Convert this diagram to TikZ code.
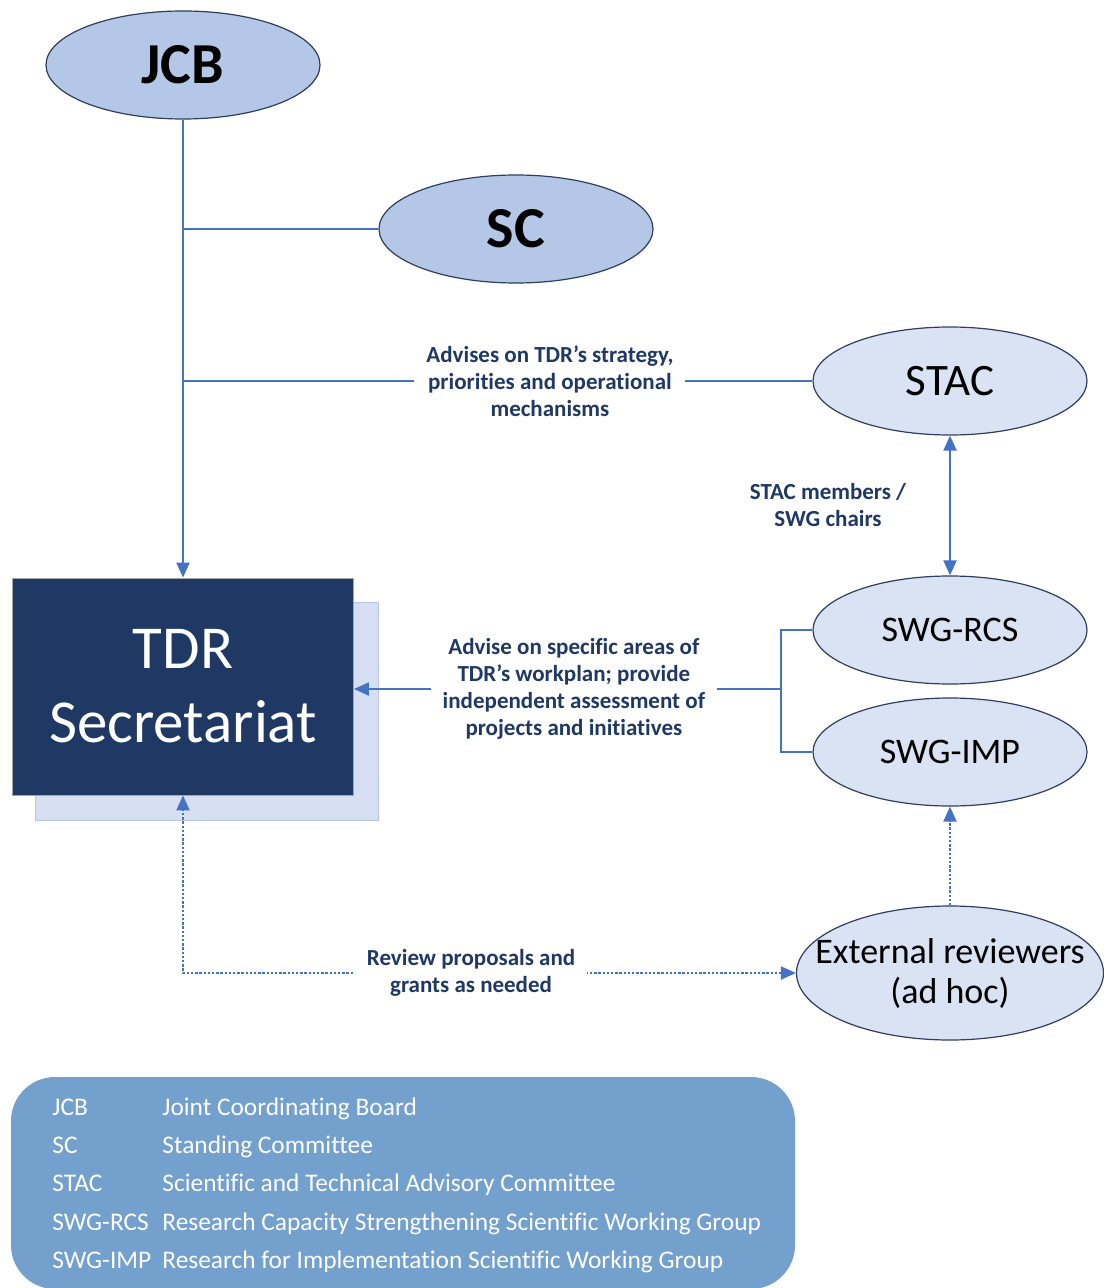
\documentclass[tikz,border=0pt]{standalone}
\usepackage{fontspec}
\setmainfont{Carlito}[Ligatures=NoCommon]
\usetikzlibrary{shapes.geometric, arrows.meta, positioning}

\definecolor{linkblue}{HTML}{4472C4}
\definecolor{navy}{HTML}{1F3864}
\definecolor{ovalline}{RGB}{47,62,94}
\definecolor{ovaldark}{HTML}{B4C7E7}
\definecolor{ovallight}{HTML}{DAE3F3}
\definecolor{shadowfill}{HTML}{D6DFF2}
\definecolor{shadowline}{HTML}{B4C7E7}
\definecolor{legendfill}{RGB}{116,160,206}

\begin{document}
\begin{tikzpicture}[
        x=0.5pt, y=-0.5pt, % one unit = one pixel of the chart
        >={Triangle[length=7.5pt, width=6.5pt]},
        link/.style = {draw=linkblue, line width=1pt},
        dotlink/.style = {link, dash pattern=on 1.2pt off 0.9pt},
        oval/.style = {ellipse, draw=ovalline, line width=0.6pt, inner sep=0pt, minimum width=137pt, minimum height=54pt},
        topoval/.style = {oval, fill=ovaldark, font=\fontsize{29}{35}\selectfont\bfseries},
        advoval/.style = {oval, fill=ovallight, font=\fontsize{18}{20}\selectfont},
        lbl/.style = {fill=white, text=navy, align=center, inner sep=6pt, font=\fontsize{11.5}{13.5}\selectfont\bfseries},
        legtext/.style = {anchor=base west, text=white, inner sep=0pt, font=\fontsize{12.7}{15}\selectfont},
    ]

    \useasboundingbox (0,0) rectangle (1103,1288);

    % governing bodies
    \node[topoval] (jcb) at (183,65) {JCB};
    \node[topoval] (sc) at (516,229) {SC};

    % secretariat with its back plate
    \node[draw=shadowline, fill=shadowfill, minimum width=171.5pt, minimum height=109pt] (tdrback) at (207,711) {};
    \node[draw=gray!70, fill=navy, text=white, align=center, inner sep=0pt,
          minimum width=170.5pt, minimum height=108.5pt,
          font=\fontsize{30.5}{37}\selectfont] (tdr) at (183,686.5) {TDR\\Secretariat};

    % advisory bodies
    \node[advoval, font=\fontsize{22.5}{27}\selectfont] (stac) at (950,381) {STAC};
    \node[advoval] (rcs) at (950,630) {SWG-RCS};
    \node[advoval] (imp) at (950,752) {SWG-IMP};
    \node[advoval, align=center, minimum width=153.5pt, minimum height=67pt] (ext) at (950,973)
        {\makebox[0pt]{External reviewers}\\\makebox[0pt]{(ad hoc)}};

    % connectors
    \coordinate (jsc) at (jcb.south |- sc.west);
    \coordinate (jstac) at (jcb.south |- stac.west);
    \coordinate (fork) at (781,689);

    \draw[link, ->] (jcb.south) -- (tdr.north);
    \draw[link] (jsc) -- (sc.west);
    \draw[link] (jstac) -- node[lbl, pos=0.583] {Advises on TDR’s strategy,\\priorities and operational\\mechanisms} (stac.west);
    \draw[link, <->] (stac.south) -- node[lbl, xshift=-61pt] {STAC members /\\SWG chairs} (rcs.north);
    \draw[link] (rcs.west) -| (fork) |- (imp.west);
    \draw[link, ->] (fork) -- node[lbl, pos=0.485] {Advise on specific areas of\\TDR’s workplan; provide\\independent assessment of\\projects and initiatives} (fork -| tdr.east);
    \draw[dotlink, <->] (ext.west) -| node[lbl, pos=0.265] {Review proposals and\\grants as needed} (tdr.south);
    \draw[dotlink, ->] (ext.north) -- (imp.south);

    % legend
    \node[fill=legendfill, rounded corners=22pt, minimum width=392pt, minimum height=106pt] (legend) at (403,1183) {};
    \foreach \abbr/\full [count=\i] in {JCB/Joint Coordinating Board, SC/Standing Committee,
            STAC/Scientific and Technical Advisory Committee,
            SWG-RCS/Research Capacity Strengthening Scientific Working Group,
            SWG-IMP/Research for Implementation Scientific Working Group} {
        \node[legtext] (abbr\i) at (52,1077+38.25*\i) {\abbr};
        \node[legtext] (full\i) at (162,1077+38.25*\i) {\full};
    }

\end{tikzpicture}
\end{document}
